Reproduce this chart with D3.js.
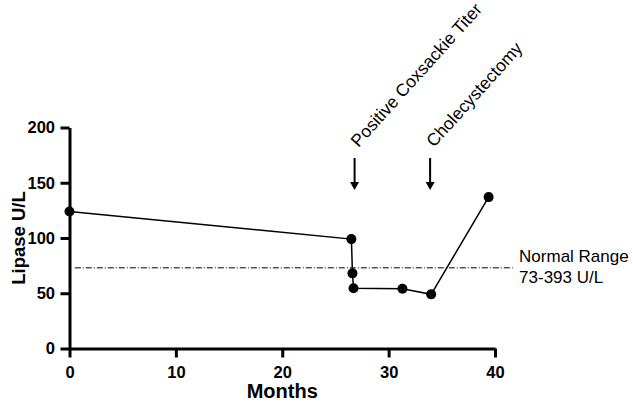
<!DOCTYPE html>
<html>
<head>
<meta charset="utf-8">
<script src="https://cdn.jsdelivr.net/npm/d3@7"></script>
<style>
  body { margin: 0; background: #fff; }
  svg { display: block; font-family: "Liberation Sans", Arial, sans-serif; }
</style>
</head>
<body>
<svg id="chart"></svg>
<script>
// Lipase readings over time
const months = [0, 26.5, 26.6, 26.7, 31.3, 34.0, 39.4];
const lipase = [124, 99, 68, 54.5, 54, 49, 137];

const xTicks = [0, 10, 20, 30, 40];
const yTicks = [0, 50, 100, 150, 200];

// Events marked by arrows
const eventLabels = ['Positive Coxsackie Titer', 'Cholecystectomy'];
const eventMonths = [26.8, 33.9];

// Reference line
const normalLevel = [73];
const normalSpan = [0.5, 41.7];
const normalText = ['Normal Range', '73-393 U/L'];

const W = 633, H = 402;
const svg = d3.select('#chart').attr('width', W).attr('height', H);

const x = d3.scaleLinear().domain([0, 40]).range([69.5, 495]);
const y = d3.scaleLinear().domain([0, 200]).range([348.5, 127.5]);

// Axes
const yAxis = svg.append('g')
    .attr('transform', `translate(${x(0)},0)`)
    .call(d3.axisLeft(y).tickValues(yTicks).tickSize(9).tickSizeOuter(0).tickPadding(5.5));
const xAxis = svg.append('g')
    .attr('transform', `translate(0,${y(0)})`)
    .call(d3.axisBottom(x).tickValues(xTicks).tickSize(9).tickSizeOuter(0).tickPadding(8.5));

[xAxis, yAxis].forEach(ax => {
    ax.select('.domain').attr('stroke', '#000').attr('stroke-width', 3);
    ax.selectAll('.tick line').attr('stroke', '#000').attr('stroke-width', 3);
    ax.selectAll('.tick text')
        .attr('fill', '#000')
        .style('font-size', '16.5px')
        .style('font-weight', 'bold')
        .style('font-family', '"Liberation Sans", Arial, sans-serif');
});

// Axis titles
svg.append('text')
    .attr('transform', `translate(25,${(y(0) + y(200)) / 2}) rotate(-90)`)
    .attr('text-anchor', 'middle')
    .style('font-size', '18.5px')
    .style('font-weight', 'bold')
    .text('Lipase U/L');

svg.append('text')
    .attr('x', (x(0) + x(40)) / 2)
    .attr('y', 398)
    .attr('text-anchor', 'middle')
    .style('font-size', '20px')
    .style('font-weight', 'bold')
    .text('Months');

// Normal range dash-dot line
svg.append('line')
    .attr('x1', x(normalSpan[0]))
    .attr('x2', x(normalSpan[1]))
    .attr('y1', y(normalLevel[0]))
    .attr('y2', y(normalLevel[0]))
    .attr('stroke', '#000')
    .attr('stroke-width', 1)
    .attr('stroke-dasharray', '6,2,1,2');

svg.selectAll('.normal-label')
    .data(normalText)
    .enter()
    .append('text')
    .attr('class', 'normal-label')
    .attr('x', x(normalSpan[1]) + 6)
    .attr('y', (d, i) => y(normalLevel[0]) - 6 + i * 21)
    .style('font-size', '17px')
    .text(d => d);

// Data line and points
const pts = months.map((m, i) => ({ m: m, v: lipase[i] }));
svg.append('path')
    .datum(pts)
    .attr('fill', 'none')
    .attr('stroke', '#000')
    .attr('stroke-width', 1.5)
    .attr('d', d3.line().x(d => x(d.m)).y(d => y(d.v)));

svg.selectAll('.pt')
    .data(pts)
    .enter()
    .append('circle')
    .attr('class', 'pt')
    .attr('cx', d => x(d.m))
    .attr('cy', d => y(d.v))
    .attr('r', 5)
    .attr('fill', '#000');

// Event arrows and rotated labels
const arrowTop = 158, arrowBottom = 190;
const ev = svg.selectAll('.event')
    .data(eventLabels)
    .enter()
    .append('g')
    .attr('class', 'event')
    .attr('transform', (d, i) => `translate(${x(eventMonths[i])},0)`);

ev.append('line')
    .attr('x1', 0).attr('x2', 0)
    .attr('y1', arrowTop).attr('y2', arrowBottom - 7)
    .attr('stroke', '#000')
    .attr('stroke-width', 2);

ev.append('path')
    .attr('d', `M-4.5,${arrowBottom - 8}L4.5,${arrowBottom - 8}L0,${arrowBottom}Z`)
    .attr('fill', '#000');

ev.append('text')
    .attr('transform', 'translate(4,148) rotate(-48)')
    .style('font-size', '17.5px')
    .text(d => d);
</script>
</body>
</html>
